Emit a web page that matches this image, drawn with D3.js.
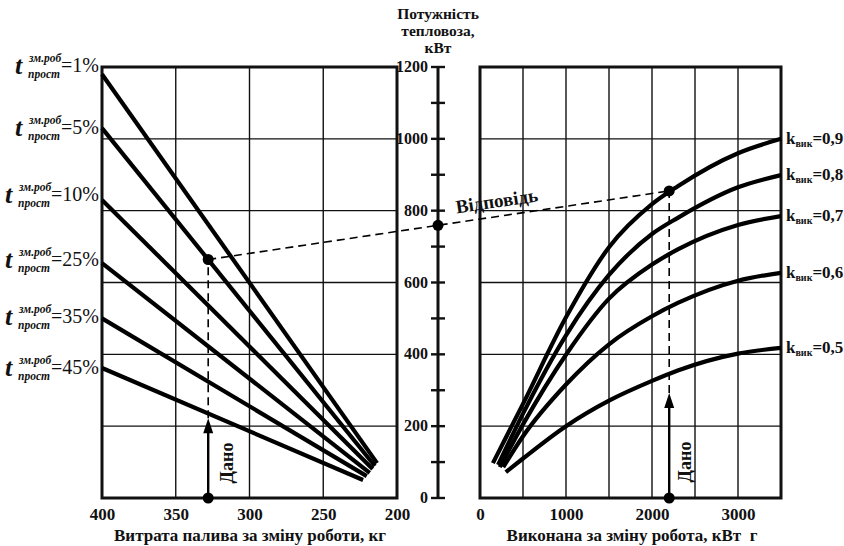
<!DOCTYPE html>
<html>
<head>
<meta charset="utf-8">
<script src="https://cdn.jsdelivr.net/npm/d3@7"></script>
<style>
  html, body { margin: 0; padding: 0; background: #fff; }
  svg { display: block; }
  text { font-family: "Liberation Serif", "Times New Roman", serif; fill: #111; }
  .b { font-weight: bold; }
  .grid line { stroke: #111; stroke-width: 1.4; }
  .frame { fill: none; stroke: #111; stroke-width: 3; }
  .curve { fill: none; stroke: #000; stroke-width: 4.2; }
  .dash { fill: none; stroke: #000; stroke-width: 1.6; stroke-dasharray: 8 5; }
</style>
</head>
<body>
<svg id="chart" width="844" height="546"></svg>
<script>
// Nomogram: fuel use -> locomotive power -> work done per shift.

// left panel: idle share lines (power vs fuel, kg)
const idleLabels = ["1%", "5%", "10%", "25%", "35%", "45%"];
const fuelStart  = [400, 400, 400, 400, 400, 400];
const powerStart = [1180, 1030, 830, 654, 500, 362];
const fuelEnd    = [213.5, 215, 216.5, 218.5, 220.5, 223];
const powerEnd   = [97, 89, 81, 70, 61, 50];

// right panel: power vs work done, one curve per utilisation factor
const kLabels    = ["0,9", "0,8", "0,7", "0,6", "0,5"];
const workStart  = [150, 210, 230, 270, 300];
const powStart   = [97, 92, 86, 86, 72];
const workGrid   = [500, 1000, 1500, 2000, 2300, 3000, 3500];
const kPower = [
    [262, 503, 698, 818, 868, 960, 1000],
    [235, 453, 621, 735, 780, 865, 899],
    [205, 399, 555, 650, 692, 760, 785],
    [172, 316, 428, 506, 543, 605, 627],
    [110, 200, 271, 326, 355, 402, 418]
];

// worked example
const givenFuel = 328, givenFuelPower = 664, givenFuelArrow = 222;
const givenWork = 2200, answerPower = 855, givenWorkArrow = 292;

// axes ticks
const fuelTicks  = [400, 350, 300, 250, 200];
const workTicks  = [0, 1000, 2000, 3000];
const workGridTicks = [500, 1000, 1500, 2000, 2500, 3000];
const powerTicks = [0, 200, 400, 600, 800, 1000, 1200];
const powerMinor = [0, 100, 200, 300, 400, 500, 600, 700, 800, 900, 1000, 1100, 1200];

const svg = d3.select("#chart");

const y  = d3.scaleLinear().domain([0, 1200]).range([498, 67]);
const xL = d3.scaleLinear().domain([400, 200]).range([102, 397]);
const xR = d3.scaleLinear().domain([0, 3500]).range([480, 781]);
const midX = 438;

// ── grids ──────────────────────────
function grid(xs, xScale) {
    const g = svg.append("g").attr("class", "grid");
    const [x0, x1] = xScale.range();
    g.selectAll("line.v").data(xs).join("line")
        .attr("x1", d => xScale(d)).attr("x2", d => xScale(d))
        .attr("y1", y(0)).attr("y2", y(1200));
    g.selectAll("line.h").data(powerTicks).join("line")
        .attr("x1", x0).attr("x2", x1)
        .attr("y1", d => y(d)).attr("y2", d => y(d));
    svg.append("rect").attr("class", "frame")
        .attr("x", x0).attr("y", y(1200))
        .attr("width", x1 - x0).attr("height", y(0) - y(1200));
}
grid([350, 300, 250], xL);
grid(workGridTicks, xR);

// bottom axes
function bottomAxis(scale, ticks) {
    const g = svg.append("g").attr("transform", `translate(0,${y(0)})`)
        .call(d3.axisBottom(scale).tickValues(ticks).tickSize(0).tickPadding(10)
            .tickFormat(d3.format("d")));
    g.select(".domain").remove();
    g.selectAll("text").attr("class", "b").style("font-size", "17px")
        .style("font-family", "'Liberation Serif', serif").attr("fill", "#111");
}
bottomAxis(xL, fuelTicks);
bottomAxis(xR, workTicks);

svg.append("text").attr("class", "b").attr("x", 250).attr("y", 541)
    .attr("text-anchor", "middle").style("font-size", "17px")
    .text("Витрата палива за зміну роботи, кг");
svg.append("text").attr("class", "b").attr("x", 632).attr("y", 541)
    .attr("text-anchor", "middle").style("font-size", "17px").style("white-space", "pre")
    .text("Виконана за зміну робота, кВт  г");

// ── middle power axis ──────────────
svg.append("rect").attr("x", midX - 1.5).attr("y", y(1200))
    .attr("width", 3).attr("height", y(0) - y(1200)).attr("fill", "#111");
svg.append("g").selectAll("rect").data(powerMinor).join("rect")
    .attr("x", midX - 7).attr("y", d => y(d) - 1.2)
    .attr("width", 14).attr("height", 2.4).attr("fill", "#111");
svg.append("g").selectAll("text").data(powerTicks).join("text")
    .attr("class", "b").attr("x", midX - 10).attr("y", d => y(d)).attr("dy", "0.32em")
    .attr("text-anchor", "end").style("font-size", "16px").text(d => d);

const title = svg.append("text").attr("class", "b").attr("text-anchor", "middle")
    .style("font-size", "15.5px");
["Потужність", "тепловоза,", "кВт"].forEach((t, i) => {
    title.append("tspan").attr("x", midX).attr("y", 19 + i * 17).text(t);
});

// ── left panel lines ───────────────
svg.append("g").selectAll("line").data(idleLabels).join("line")
    .attr("class", "curve").attr("stroke-linecap", "butt")
    .attr("x1", (d, i) => xL(fuelStart[i])).attr("y1", (d, i) => y(powerStart[i]))
    .attr("x2", (d, i) => xL(fuelEnd[i])).attr("y2", (d, i) => y(powerEnd[i]));

const labelY = [66, 128, 195, 260, 317, 368];
idleLabels.forEach((lab, i) => {
    const cy = labelY[i];
    const eq = svg.append("text").attr("x", 99).attr("y", cy + 6)
        .attr("text-anchor", "end").style("font-size", "20px").text("=" + lab);
    const x0 = 99 - eq.node().getComputedTextLength() - 46;
    svg.append("text").attr("class", "b").attr("x", x0).attr("y", cy + 8)
        .style("font-size", "26px").style("font-style", "italic").text("t");
    svg.append("text").attr("class", "b").attr("x", x0 + 14).attr("y", cy - 4)
        .style("font-size", "11.5px").style("font-style", "italic").text("зм.роб");
    svg.append("text").attr("class", "b").attr("x", x0 + 13).attr("y", cy + 12)
        .style("font-size", "11.5px").style("font-style", "italic").text("прост");
});

// ── right panel curves ─────────────
const curveLine = d3.line().x(d => xR(d[0])).y(d => y(d[1])).curve(d3.curveMonotoneX);
kLabels.forEach((k, i) => {
    const pts = [[workStart[i], powStart[i]]].concat(workGrid.map((w, j) => [w, kPower[i][j]]));
    svg.append("path").attr("class", "curve").attr("d", curveLine(pts));
    const ly = y(kPower[i][kPower[i].length - 1]);
    const t = svg.append("text").attr("class", "b").attr("x", 786).attr("y", ly + 5)
        .style("font-size", "17px");
    t.append("tspan").text("k");
    t.append("tspan").attr("dy", 3).style("font-size", "10px").text("вик");
    t.append("tspan").attr("dy", -3).text("=" + k);
});

// ── worked example ─────────────────
function arrowUp(x, yBottom, yTop) {
    svg.append("line").attr("x1", x).attr("x2", x).attr("y1", yBottom).attr("y2", yTop + 10)
        .attr("stroke", "#000").attr("stroke-width", 2.4);
    svg.append("path").attr("d", `M${x},${yTop}L${x - 5},${yTop + 15}L${x + 5},${yTop + 15}Z`)
        .attr("fill", "#000");
}
function dot(x, yy) {
    svg.append("circle").attr("cx", x).attr("cy", yy).attr("r", 5.5).attr("fill", "#000");
}

const gx = xL(givenFuel), wx = xR(givenWork);
arrowUp(gx, y(0), y(givenFuelArrow));
svg.append("line").attr("class", "dash").attr("x1", gx).attr("x2", gx)
    .attr("y1", y(givenFuelArrow)).attr("y2", y(givenFuelPower));
arrowUp(wx, y(0), y(givenWorkArrow));
svg.append("line").attr("class", "dash").attr("x1", wx).attr("x2", wx)
    .attr("y1", y(givenWorkArrow)).attr("y2", y(answerPower));

const p1 = [gx, y(givenFuelPower)], p2 = [wx, y(answerPower)];
svg.append("line").attr("class", "dash")
    .attr("x1", p1[0]).attr("y1", p1[1]).attr("x2", p2[0]).attr("y2", p2[1]);
const midY = p1[1] + (p2[1] - p1[1]) * (midX - p1[0]) / (p2[0] - p1[0]);

dot(gx, y(0)); dot(wx, y(0));
dot(p1[0], p1[1]); dot(p2[0], p2[1]); dot(midX, midY);

const ang = Math.atan2(p2[1] - p1[1], p2[0] - p1[0]) * 180 / Math.PI;
const ax = 499, ay = p1[1] + (p2[1] - p1[1]) * (ax - p1[0]) / (p2[0] - p1[0]);
svg.append("text").attr("class", "b")
    .attr("transform", `translate(${ax},${ay}) rotate(${ang}) translate(0,-9)`)
    .attr("text-anchor", "middle").style("font-size", "19px").text("Відповідь");

[[gx + 25, 463], [wx + 22, 462]].forEach(([x, yy]) => {
    svg.append("text").attr("class", "b")
        .attr("transform", `translate(${x},${yy}) rotate(-90)`)
        .attr("text-anchor", "middle").style("font-size", "18px").text("Дано");
});
</script>
</body>
</html>
